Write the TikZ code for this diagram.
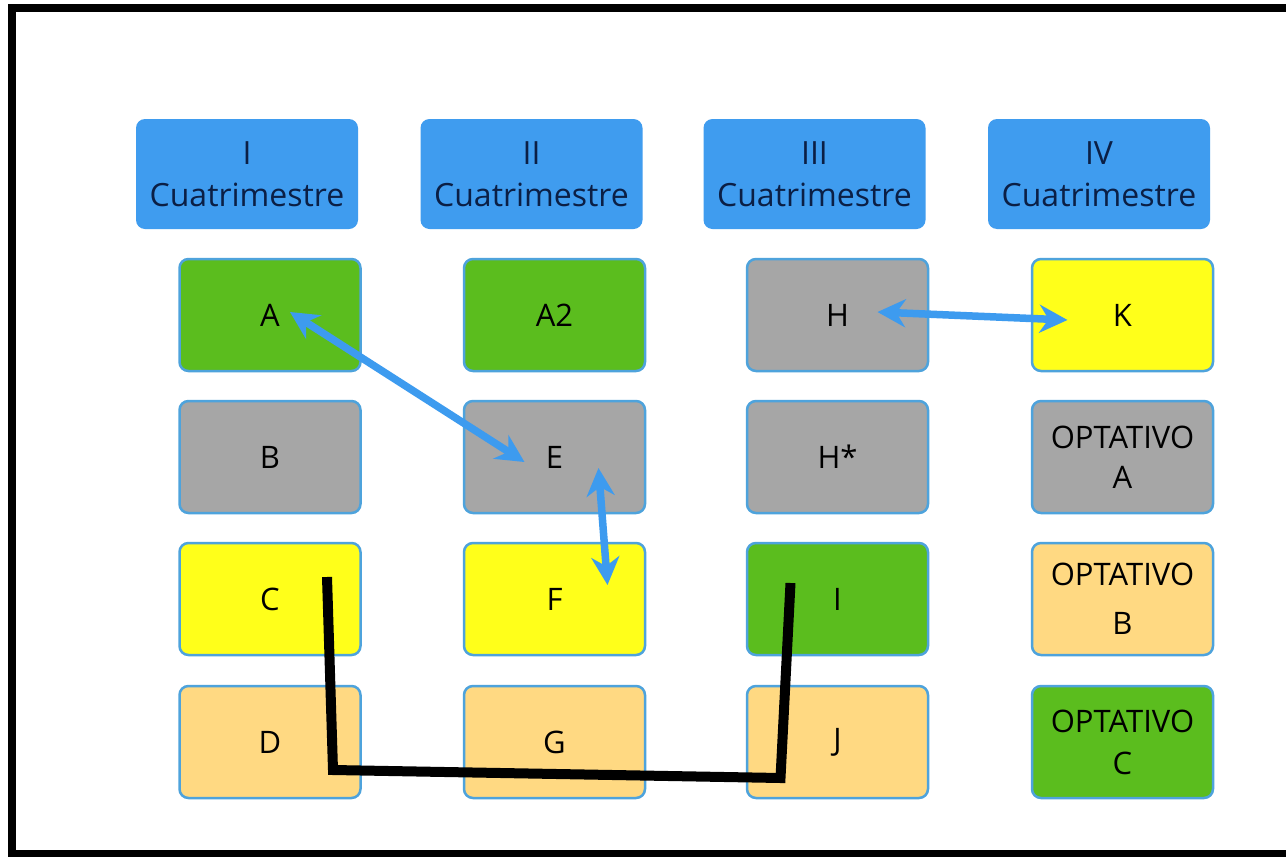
\documentclass[tikz,border=0pt]{standalone}
\usepackage{fontspec}
\setmainfont{Open Sans}
\usetikzlibrary{arrows.meta,calc}
\definecolor{hdrblue}{HTML}{3F9CEF}
\definecolor{hdrtext}{HTML}{0B1F45}
\definecolor{edge}{HTML}{4EA3DC}
\definecolor{cgreen}{HTML}{5BBD1E}
\definecolor{cgray}{HTML}{A6A6A6}
\definecolor{cyellow}{HTML}{FFFF1A}
\definecolor{corange}{HTML}{FFD982}
\definecolor{arrblue}{HTML}{3D9BEF}
\begin{document}
\begin{tikzpicture}[x=1pt,y=-1pt,
  hdr/.style={fill=hdrblue,rounded corners=9pt,minimum width=222pt,minimum height=110pt,
    text=hdrtext,align=center,inner sep=0pt,font=\fontsize{32}{42}\selectfont},
  course/.style={draw=edge,line width=2.5pt,rounded corners=9pt,minimum width=181pt,minimum height=112pt,
    align=center,inner sep=0pt,font=\fontsize{31}{40}\selectfont},
  gbox/.style={course,fill=cgreen},
  graybox/.style={course,fill=cgray},
  ybox/.style={course,fill=cyellow},
  obox/.style={course,fill=corange},
  link/.style={draw=arrblue,line width=7.5pt,{Stealth[length=28pt,width=28pt]}-{Stealth[length=28pt,width=28pt]}},
  chain/.style={draw=black,line width=10pt,line join=miter}
]
\useasboundingbox (0,0) rectangle (1286,857);
\fill[white] (0,0) rectangle (1286,857);
\draw[line width=7.5pt,line join=miter] (1300,8) -- (12,8) -- (12,854) -- (1300,854);

% headers
\node[hdr] (h1) at (247,174) {I\\Cuatrimestre};
\node[hdr] (h2) at (531.5,174) {II\\Cuatrimestre};
\node[hdr] (h3) at (814.5,174) {III\\Cuatrimestre};
\node[hdr] (h4) at (1099,174) {IV\\Cuatrimestre};

% column 1
\node[gbox] (A) at (270,315) {A};
\node[graybox] (B) at (270,457) {B};
\node[ybox] (C) at (270,599) {C};
\node[obox] (D) at (270,742) {D};
% column 2
\node[gbox] (A2) at (554.5,315) {A2};
\node[graybox] (E) at (554.5,457) {E};
\node[ybox] (F) at (554.5,599) {F};
\node[obox] (G) at (554.5,742) {G};
% column 3
\node[graybox] (H) at (837.5,315) {H};
\node[graybox] (Hs) at (837.5,457) {H*};
\node[gbox] (I) at (837.5,599) {I};
\node[obox] (J) at (837.5,742) {J};
% column 4
\node[ybox] (K) at (1122.5,315) {K};
\node[graybox] (OA) at (1122.5,457) {OPTATIVO\\A};
\node[obox,font=\fontsize{31}{49}\selectfont] (OB) at (1122.5,599) {OPTATIVO\\B};
\node[gbox,font=\fontsize{31}{42}\selectfont] (OC) at (1122.5,742) {OPTATIVO\\C};

% arrow end points
\coordinate (aA) at ($(A.center)+(20,-3)$);
\coordinate (aE) at ($(E.center)+(-30,5)$);
\coordinate (bE) at ($(E.center)+(44,11)$);
\coordinate (bF) at ($(F.center)+(53,-14)$);
\coordinate (cH) at ($(H.center)+(40,-3)$);
\coordinate (cK) at ($(K.center)+(-55,5)$);

\draw[link] (aA) -- (aE);
\draw[link] (bE) -- (bF);
\draw[link] (cH) -- (cK);

% black connector
\coordinate (c1) at ($(C.center)+(57,-22)$);
\coordinate (c2) at ($(D.center)+(63,28)$);
\coordinate (c3) at ($(J.center)+(-57,36)$);
\coordinate (c4) at ($(I.center)+(-47,-16)$);
\draw[chain] (c1) -- (c2) -- (c3) -- (c4);
\end{tikzpicture}
\end{document}
